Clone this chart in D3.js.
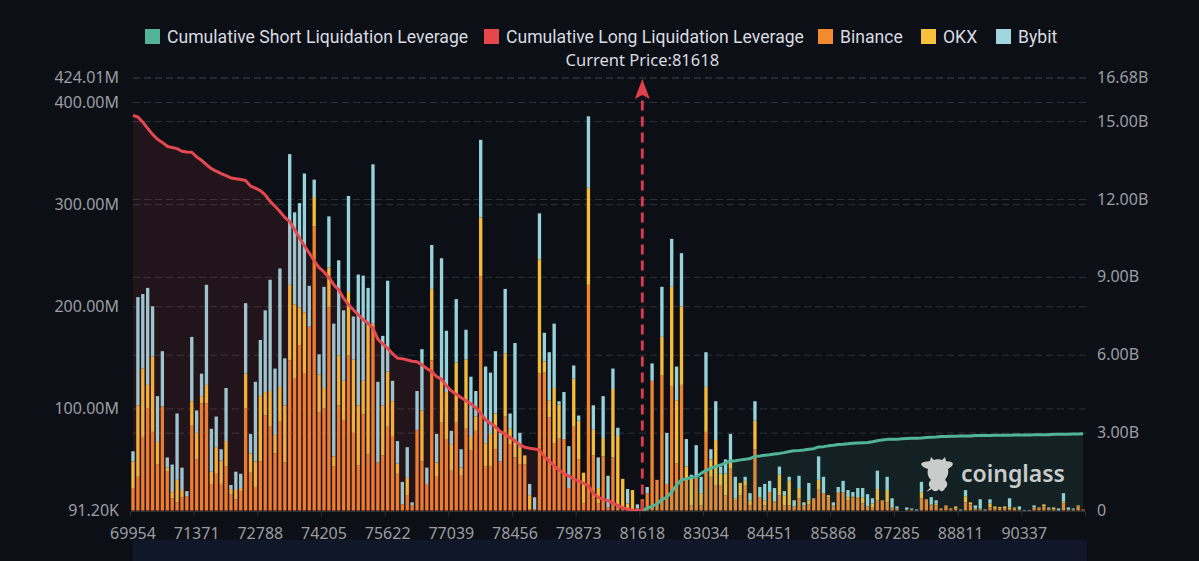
<!DOCTYPE html>
<html>
<head>
<meta charset="utf-8">
<script src="https://cdn.jsdelivr.net/npm/d3@7/dist/d3.min.js"></script>
<style>
  html, body { margin: 0; padding: 0; background: #0c0f16; overflow: hidden; }
  svg { display: block; font-family: "Noto Sans", sans-serif; }
  .gridline { stroke: #2f323a; stroke-width: 1; stroke-dasharray: 7 4; }
  .axis text { fill: #9b9da3; font-size: 16px; font-family: "Noto Sans", sans-serif; }
  .axis .domain { display: none; }
  .legend text { fill: #d9dbe0; font-size: 17.6px; font-family: Roboto, sans-serif; }
</style>
</head>
<body>
<svg id="chart" width="1199" height="561"></svg>
<script>
// Liquidation leverage per price bucket, in millions of USD.
const binance = [22,33,72,100,77,45,102,38,12,8,13,14,83,50,105,105,26,36,26,43,16,11,19,100,37,23,48,93,82,56,87,47,147,129,162,134,180,278,96,100,199,43,103,88,152,76,44,94,55,176,47,54,82,73,36,
  6,15,4,79,48,26,147,33,86,70,39,86,34,80,59,78,229,43,43,60,48,92,65,52,45,45,1,1,134,135,91,66,71,70,22,82,50,7,221,54,7,53,3,52,3,1,2,1,2,11,
  17,127,30,132,26,122,46,123,30,5,33,5,77,33,25,25,15,41,10,15,25,5,60,13,5,18,8,15,5,5,4,12,5,6,12,21,17,13,4,17,18,10,13,12,7,4,
  3,10,10,8,2,2,0,1,1,0,12,11,5,5,2,5,1,2,0,8,6,1,1,0,3,2,2,2,1,2,1,0,0,3,2,4,1,1,0,7,1,1,4,1];
const okx = [26,70,67,23,74,22,0,4,6,22,7,0,24,26,7,18,12,26,23,25,5,9,3,34,19,25,64,23,35,18,34,56,74,73,37,60,0,29,37,20,39,10,49,39,62,72,59,33,126,7,0,49,54,34,10,
  0,17,1,0,50,0,70,14,40,46,26,59,8,68,14,14,58,23,32,35,0,62,15,18,17,9,14,0,112,11,17,54,33,0,0,47,38,30,95,25,15,18,0,67,70,30,5,19,0,0,
  0,0,0,38,0,97,62,77,13,28,0,12,44,17,44,11,21,8,2,12,4,5,28,0,5,0,1,20,10,24,0,10,0,4,0,9,0,2,1,1,0,3,1,1,6,0,
  4,11,0,12,1,0,0,0,0,0,6,0,1,2,0,0,1,2,0,6,2,1,1,0,4,2,1.5,2,2,1,0,0,0,0,1,2,1,2,0,2,0,0,1,0];
const bybit = [10,106,73,95,49,45,54,10,27,65,22,5,63,22,22,98,42,30,11,52,4,18,14,69,19,78,55,80,109,65,116,46,128,90,102,136,40,17,20,99,50,130,93,69,94,42,128,103,37,156,79,68,89,20,22,
  22,30,3,38,60,16,43,28,121,60,13,62,18,29,58,25,76,75,60,61,28,63,15,94,14,0,11,12,45,28,47,63,3,46,41,13,5,0,70,24,30,41,31,20,8,0,14,0,4,0,
  6,17,0,49,50,47,33,52,27,2,31,16,34,10,38,7,14,26,21,0,4,7,19,10,16,11,13,8,4,4,6,12,3,17,0,23,16,0,3,5,11,7,4,9,9,12,
  5,18,0,13,9,2,0,2,1,1,10,0,7,3,0,0,0,0,1,6,0,3,9,1,4,0,0,0,9,0,3,0.5,0.5,2,0,0,1,0,2,8,2,1,0,0];

// Cumulative leverage in billions of USD, walking away from the current price.
const longLeverage = [15.22,15.16,14.96,14.72,14.49,14.30,14.18,14.03,13.98,13.94,13.84,13.81,13.80,13.62,13.49,13.32,13.17,13.07,12.98,12.90,12.81,12.78,12.75,12.71,12.50,12.42,12.32,12.16,11.91,11.72,11.52,11.29,11.13,10.82,10.50,10.20,9.92,9.62,9.36,9.19,8.98,8.70,8.50,8.18,7.93,7.73,7.54,7.35,7.22,7.03,6.60,6.42,6.25,6.04,5.87,5.85,5.80,5.75,5.73,5.61,5.47,5.35,5.16,5.06,4.80,4.61,4.48,4.35,4.23,4.11,3.96,3.75,3.49,3.36,3.23,3.04,2.94,2.81,2.68,2.53,2.44,2.40,2.37,2.34,2.07,1.91,1.72,1.56,1.43,1.33,1.21,1.14,1.05,0.94,0.66,0.51,0.43,0.38,0.28,0.20,0.11,0.05,0.02,0.01,0];
const shortLeverage = [0,0.08,0.17,0.25,0.43,0.51,0.72,0.98,1.18,1.22,1.27,1.30,1.43,1.54,1.63,1.70,1.75,1.84,1.90,1.92,1.95,1.97,2.00,2.09,2.10,2.13,2.15,2.18,2.20,2.23,2.27,2.30,2.31,2.33,2.36,2.38,2.45,2.46,2.49,2.51,2.54,2.55,2.57,2.59,2.60,2.61,2.62,2.65,2.69,2.72,2.74,2.74,2.74,2.76,2.77,2.78,2.78,2.79,2.81,2.82,2.83,2.85,2.85,2.86,2.86,2.87,2.87,2.87,2.89,2.89,2.89,2.89,2.90,2.90,2.90,2.90,2.91,2.91,2.91,2.91,2.92,2.92,2.92,2.92,2.94,2.94,2.94,2.94,2.95,2.95,2.96];
const shortStart = 104;

const priceLabels = ["69954","71371","72788","74205","75622","77039","78456","79873","81618","83034","84451","85868","87285","88811","90337"];
const tickEvery = 13;
const currentPriceLabel = "Current Price:81618";
const currentIndex = 104;

const leftTicks = [0,100,200,300,400,424.01];
const leftTickLabels = ["91.20K","100.00M","200.00M","300.00M","400.00M","424.01M"];
const rightTicks = [0,3,6,9,12,15,16.68];
const rightTickLabels = ["0","3.00B","6.00B","9.00B","12.00B","15.00B","16.68B"];

const legendNames = ["Cumulative Short Liquidation Leverage","Cumulative Long Liquidation Leverage","Binance","OKX","Bybit"];
const legendColors = ["#52b398","#e5474d","#f28a2e","#f8c13c","#9fd6de"];
const legendSwatchX = [145,484,818,921,996];

const svg = d3.select("#chart");
const plot = { left: 130.55, right: 1085.5, top: 77.5, bottom: 510.5 };

// Footer band below the chart.
svg.append("rect").attr("x", 133).attr("y", 539.5).attr("width", 954).attr("height", 22).attr("fill", "#0f1729");

const x = d3.scaleBand().domain(d3.range(binance.length)).range([plot.left, plot.right]).paddingInner(0.32).paddingOuter(0.16);
const yLeft = d3.scaleLinear().domain([0, 424.01]).range([plot.bottom, plot.top]);
const yRight = d3.scaleLinear().domain([0, 16.68]).range([plot.bottom, plot.top]);
const cx = i => x(i) + x.bandwidth() / 2;

// Dashed horizontal grid for both value axes.
const grid = svg.append("g");
const gridLines = (scale, values) => grid.selectAll(null).data(values).enter().append("line")
  .attr("class", "gridline")
  .attr("x1", 133).attr("x2", 1087)
  .attr("y1", d => scale(d) + 0.5).attr("y2", d => scale(d) + 0.5);
gridLines(yLeft, leftTicks.slice(1));
gridLines(yRight, rightTicks.slice(1));

// Stacked exchange bars.
const rows = binance.map((b, i) => ({ i, binance: b, okx: okx[i], bybit: bybit[i] }));
const stack = d3.stack().keys(["binance", "okx", "bybit"])(rows);
const stackColor = d3.scaleOrdinal().domain(["binance", "okx", "bybit"]).range(["#ee842d", "#f6bb39", "#98d2db"]);
svg.append("g").selectAll("g").data(stack).enter().append("g")
  .attr("fill", d => stackColor(d.key))
  .selectAll("rect").data(d => d).enter().append("rect")
  .attr("x", d => x(d.data.i))
  .attr("width", x.bandwidth())
  .attr("y", d => yLeft(d[1]))
  .attr("height", d => Math.max(0, yLeft(d[0]) - yLeft(d[1])));

// Translucent areas and cumulative curves.
const longArea = d3.area().x((d, i) => cx(i)).y0(plot.bottom).y1(d => yRight(d));
const longLine = d3.line().x((d, i) => cx(i)).y(d => yRight(d));
const shortArea = d3.area().x((d, i) => cx(i + shortStart)).y0(plot.bottom).y1(d => yRight(d));
const shortLine = d3.line().x((d, i) => cx(i + shortStart)).y(d => yRight(d));

svg.append("path").datum(longLeverage).attr("d", longArea).attr("fill", "#e5474d").attr("fill-opacity", 0.1);
svg.append("path").datum(shortLeverage).attr("d", shortArea).attr("fill", "#52b398").attr("fill-opacity", 0.11);
svg.append("path").datum(longLeverage).attr("d", longLine).attr("fill", "none").attr("stroke", "#e5484e").attr("stroke-width", 3).attr("stroke-linejoin", "round");
svg.append("path").datum(shortLeverage).attr("d", shortLine).attr("fill", "none").attr("stroke", "#52b398").attr("stroke-width", 3).attr("stroke-linejoin", "round");

// Current price marker.
const markerX = cx(currentIndex);
svg.append("line")
  .attr("x1", markerX).attr("x2", markerX)
  .attr("y1", plot.bottom).attr("y2", 98)
  .attr("stroke", "#dc3c47").attr("stroke-width", 2.8).attr("stroke-dasharray", "10 6");
svg.append("path")
  .attr("d", d3.line()([[markerX, 79], [markerX + 7.5, 99], [markerX, 95], [markerX - 7.5, 99]]) + "Z")
  .attr("fill", "#e0404a");
svg.append("text").attr("x", markerX).attr("y", 66).attr("text-anchor", "middle")
  .attr("fill", "#d9dbe0").attr("font-size", 16.5).text(currentPriceLabel);

// Value axes.
const leftAxis = d3.axisLeft(yLeft).tickValues(leftTicks).tickSize(0).tickPadding(0)
  .tickFormat((d, i) => leftTickLabels[i]);
svg.append("g").attr("class", "axis").attr("transform", "translate(119,0)").call(leftAxis);
const rightAxis = d3.axisRight(yRight).tickValues(rightTicks).tickSize(0).tickPadding(0)
  .tickFormat((d, i) => rightTickLabels[i]);
svg.append("g").attr("class", "axis").attr("transform", "translate(1097,0)").call(rightAxis);

// Price axis: ticks sit on bucket edges, labels at the bucket centre.
const priceTickIndex = priceLabels.map((d, i) => i * tickEvery);
const bottomAxis = d3.axisBottom(x).tickValues(priceTickIndex).tickSize(5).tickPadding(11)
  .tickFormat((d, i) => priceLabels[i]);
const bottom = svg.append("g").attr("class", "axis").attr("transform", `translate(0,${plot.bottom + 1})`).call(bottomAxis);
bottom.selectAll("line").attr("stroke", "#2c2f36").attr("x1", -x.step() / 2).attr("x2", -x.step() / 2);
bottom.append("line")
  .attr("x1", plot.right).attr("x2", plot.right).attr("y1", 0).attr("y2", 5).attr("stroke", "#2c2f36");
bottom.append("line")
  .attr("x1", plot.left).attr("x2", plot.right).attr("y1", 0).attr("y2", 0).attr("stroke", "#2c2f36");

// Legend row.
const legend = svg.append("g").attr("class", "legend").selectAll("g").data(legendNames).enter().append("g")
  .attr("transform", (d, i) => `translate(${legendSwatchX[i]},29)`);
legend.append("rect").attr("width", 15).attr("height", 15).attr("fill", (d, i) => legendColors[i]);
legend.append("text").attr("x", 22).attr("y", 14).text(d => d);

// Brand mark: bull head with horns above a small body.
const brand = svg.append("g").attr("transform", "translate(921,456)").attr("fill", "#c9ccca");
brand.append("path").attr("d",
  "M0 8 C2 5 6 6 9 5 L10 1 L13 4 C15 3 19 3 21 4 L24 1 L25 5 C28 6 31 5 32 8 C31 11 28 12 27 13 C28 18 26 21 24 24 C27 26 27 31 24 32 C23 36 19 36 18 33 C16 36 12 36 11 33 C7 31 7 26 10 24 C7 21 6 18 7 13 C4 12 1 11 0 8 Z");
brand.append("path").attr("d", "M5 36 L10 31 L11 33 Z");
svg.append("text").attr("x", 961).attr("y", 482)
  .attr("fill", "#c9ccca").attr("font-size", 23).attr("font-weight", 600).text("coinglass");
</script>
</body>
</html>
